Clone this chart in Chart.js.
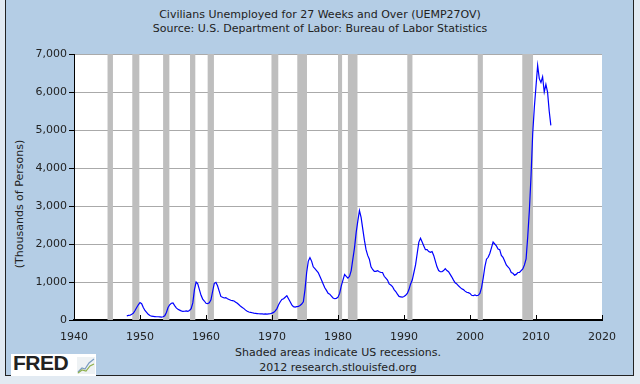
<!DOCTYPE html>
<html>
<head>
<meta charset="utf-8">
<script src="https://cdn.jsdelivr.net/npm/chart.js@4.4.1/dist/chart.umd.min.js"></script>
<style>
  body { margin: 0; width: 640px; height: 384px; overflow: hidden; background: #e2eaf2; position: relative; font-family: "DejaVu Sans", Verdana, sans-serif; color: #222; }
  #frame { position: absolute; left: 5px; top: -2px; width: 629px; height: 378px; box-sizing: border-box; border: 1px solid #222; background: #b4cde5; }
  .txt { position: absolute; font-size: 11px; white-space: nowrap; transform: translateX(-50%); }
  #ytitle { position: absolute; left: 19px; top: 204px; font-size: 11px; white-space: nowrap; transform: translate(-50%, -50%) rotate(-90deg); }
  #logo { position: absolute; left: 11px; top: 354px; width: 85px; height: 22px; background: #fff; }
  #logo span { position: absolute; left: 2px; top: -3px; font: bold 21px "Liberation Sans", Arial, sans-serif; color: #222; letter-spacing: -0.5px; }
  #logo svg { position: absolute; left: 66px; top: 3px; }
  canvas { position: absolute; left: 0; top: 0; }
</style>
</head>
<body>
<div id="frame"></div>
<div class="txt" style="left:320px; top:8px;">Civilians Unemployed for 27 Weeks and Over (UEMP27OV)</div>
<div class="txt" style="left:320px; top:22px;">Source: U.S. Department of Labor: Bureau of Labor Statistics</div>
<div id="ytitle">(Thousands of Persons)</div>
<div class="txt" style="left:338px; top:346px;">Shaded areas indicate US recessions.</div>
<div class="txt" style="left:338px; top:361px;">2012 research.stlouisfed.org</div>
<div id="logo"><span>FRED</span>
  <svg width="18" height="17" viewBox="0 0 18 17">
    <rect x="0" y="0" width="18" height="17" fill="#eef2f4"/>
    <polyline points="1,15 5,11 8,12 12,6 17,2" fill="none" stroke="#7a9bc0" stroke-width="1.2"/>
    <polyline points="1,16 5,13 9,14 13,9 17,7" fill="none" stroke="#8fb04a" stroke-width="1.2"/>
  </svg>
</div>
<canvas id="myChart" width="640" height="384"></canvas>
<script>
// quarterly values, thousands of persons, starting 1948 Q1
var startYear = 1948;
var values = [
  110, 120, 125, 150,     // 1948
  180, 250, 330, 400,     // 1949
  460, 430, 330, 250,     // 1950
  200, 150, 120, 100,     // 1951
  95, 90, 85, 85,         // 1952
  80, 75, 85, 110,        // 1953
  200, 330, 400, 440,     // 1954
  450, 380, 320, 280,     // 1955
  260, 240, 225, 230,     // 1956
  240, 230, 250, 300,     // 1957
  450, 800, 1000, 950,    // 1958
  800, 650, 550, 500,     // 1959
  440, 430, 450, 530,     // 1960
  750, 960, 990, 900,     // 1961
  760, 620, 600, 580,     // 1962
  590, 560, 540, 520,     // 1963
  510, 500, 470, 440,     // 1964
  400, 360, 330, 300,     // 1965
  260, 230, 210, 200,     // 1966
  190, 180, 175, 170,     // 1967
  165, 160, 160, 155,     // 1968
  160, 155, 160, 165,     // 1969
  180, 200, 240, 300,     // 1970
  400, 480, 540, 560,     // 1971
  600, 640, 560, 480,     // 1972
  400, 350, 340, 350,     // 1973
  360, 380, 420, 480,     // 1974
  800, 1250, 1550, 1640,  // 1975
  1550, 1400, 1350, 1300, // 1976
  1250, 1150, 1050, 950,  // 1977
  850, 780, 700, 680,     // 1978
  630, 580, 560, 570,     // 1979
  600, 700, 900, 1050,    // 1980
  1200, 1150, 1100, 1150, // 1981
  1300, 1600, 1900, 2300, // 1982
  2600, 2880, 2700, 2400, // 1983
  2100, 1850, 1700, 1600, // 1984
  1400, 1330, 1280, 1280, // 1985
  1300, 1270, 1250, 1250, // 1986
  1150, 1100, 1050, 950,  // 1987
  920, 880, 800, 750,     // 1988
  680, 620, 610, 600,     // 1989
  620, 650, 700, 800,     // 1990
  950, 1050, 1250, 1450,  // 1991
  1750, 2050, 2150, 2050, // 1992
  1950, 1850, 1850, 1800, // 1993
  1780, 1800, 1700, 1550, // 1994
  1400, 1300, 1270, 1270, // 1995
  1300, 1350, 1300, 1270, // 1996
  1200, 1130, 1050, 980,  // 1997
  950, 900, 860, 820,     // 1998
  800, 760, 730, 720,     // 1999
  700, 650, 640, 660,     // 2000
  640, 650, 700, 850,     // 2001
  1100, 1400, 1600, 1650, // 2002
  1750, 1900, 2050, 2000, // 2003
  1950, 1870, 1850, 1700, // 2004
  1650, 1550, 1450, 1400, // 2005
  1350, 1250, 1230, 1180, // 2006
  1200, 1250, 1250, 1300, // 2007
  1345, 1450, 1610, 2200, // 2008
  2900, 3800, 4900, 5600, // 2009
  6150, 6700, 6350, 6250, // 2010
  6400, 6000, 6200, 6000, // 2011
  5500, 5120              // 2012
];

// recession start / end (decimal years)
var recStart = [1945.08, 1948.83, 1953.5, 1957.58, 1960.25, 1969.92, 1973.83, 1980.0, 1981.5, 1990.5, 2001.17, 2007.92];
var recEnd   = [1945.9, 1949.9, 1954.45, 1958.38, 1961.2, 1970.95, 1975.3, 1980.62, 1982.95, 1991.28, 2001.95, 2009.55];

var xTicks = [1940, 1950, 1960, 1970, 1980, 1990, 2000, 2010, 2020];

var points = values.map((v, i) => ({ x: startYear + i / 4, y: v }));

var font = { family: "DejaVu Sans", size: 11 };

const plotBg = {
  id: 'plotBg',
  beforeDraw: chart => {
    var a = chart.chartArea, ctx = chart.ctx;
    ctx.save();
    ctx.fillStyle = '#ffffff';
    ctx.fillRect(a.left, a.top, a.right - a.left, a.bottom - a.top);
    ctx.restore();
  },
  beforeDatasetsDraw: chart => {
    var a = chart.chartArea, ctx = chart.ctx, xs = chart.scales.x;
    ctx.save();
    ctx.fillStyle = '#bebebe';
    recStart.forEach((s, i) => {
      var x1 = xs.getPixelForValue(s), x2 = xs.getPixelForValue(recEnd[i]);
      ctx.fillRect(x1, a.top, x2 - x1, a.bottom - a.top);
    });
    ctx.restore();
  },
  afterDatasetsDraw: chart => {
    // x ticks point up into the plot
    var a = chart.chartArea, ctx = chart.ctx, xs = chart.scales.x;
    ctx.save();
    ctx.strokeStyle = '#000';
    ctx.lineWidth = 1;
    xTicks.forEach(t => {
      var x = Math.round(xs.getPixelForValue(t)) + 0.5;
      ctx.beginPath();
      ctx.moveTo(x, a.bottom);
      ctx.lineTo(x, a.bottom - 5);
      ctx.stroke();
    });
    ctx.restore();
  }
};

new Chart("myChart", {
  type: "line",
  data: {
    datasets: [{
      data: points,
      borderColor: "#0000ff",
      borderWidth: 1.2,
      pointRadius: 0,
      tension: 0,
      fill: false
    }]
  },
  options: {
    responsive: false,
    animation: false,
    devicePixelRatio: 1,
    layout: { padding: { top: 54, right: 38, left: 0, bottom: 0 } },
    plugins: { legend: { display: false }, tooltip: { enabled: false } },
    scales: {
      x: {
        type: "linear",
        min: 1940,
        max: 2020,
        afterFit: s => { s.height = 64; },
        afterBuildTicks: s => { s.ticks = xTicks.map(v => ({ value: v })); },
        ticks: { callback: v => String(v), color: "#222", font: font, padding: 3, maxRotation: 0 },
        grid: { display: false },
        border: { display: true, color: "#000", width: 2 }
      },
      y: {
        min: 0,
        max: 7000,
        afterFit: s => { s.width = 74; },
        ticks: { stepSize: 1000, callback: v => v.toLocaleString("en-US"), color: "#222", font: font, padding: 2 },
        grid: { color: "#aaaaaa", tickColor: "#000", tickLength: 5, lineWidth: 1 },
        border: { display: true, color: "#000", width: 1 }
      }
    }
  },
  plugins: [plotBg]
});
</script>
</body>
</html>
